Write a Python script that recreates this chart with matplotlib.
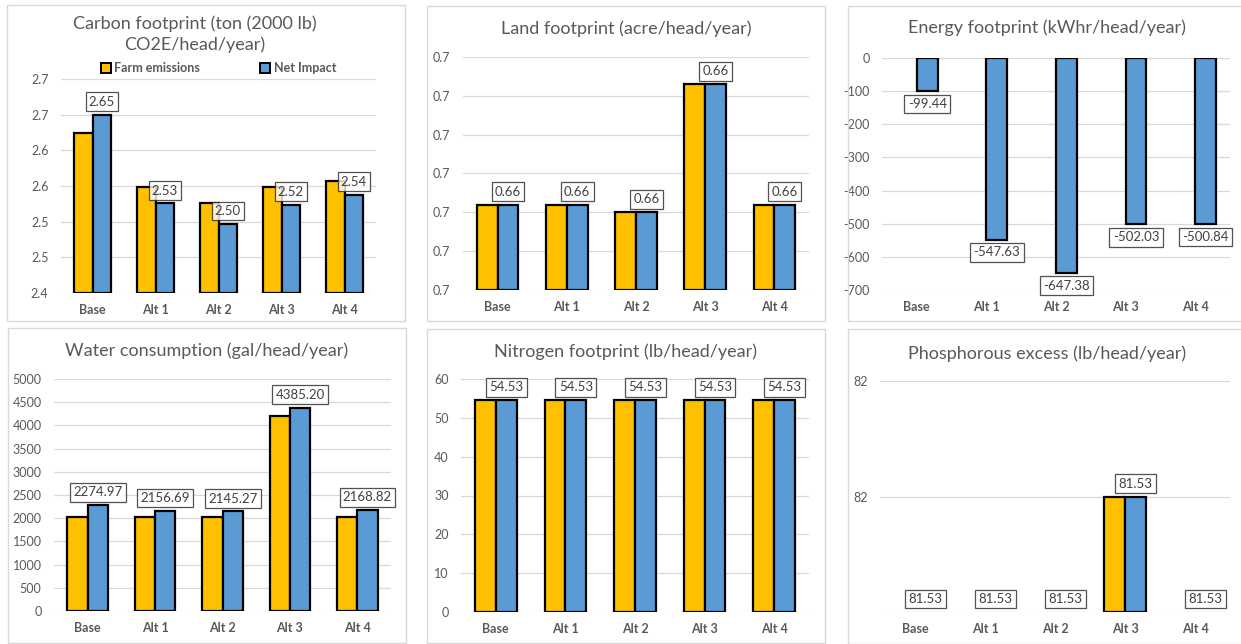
import numpy as np
from matplotlib import pyplot as plt
from matplotlib.patches import Rectangle

plt.rcParams['font.family'] = ['Lato', 'DejaVu Sans']

categories = ['Base', 'Alt 1', 'Alt 2', 'Alt 3', 'Alt 4']
series_names = ['Farm emissions', 'Net Impact']

carbon_farm = [2.624, 2.548, 2.526, 2.548, 2.557]
carbon_net = [2.650, 2.5255, 2.497, 2.524, 2.538]
carbon_ticks = [2.40, 2.45, 2.50, 2.55, 2.60, 2.65, 2.70]
carbon_ticklabels = ['2.4', '2.5', '2.5', '2.6', '2.6', '2.7', '2.7']

land_farm = [0.6572, 0.6572, 0.6570, 0.6603, 0.6572]
land_net = [0.6572, 0.6572, 0.6570, 0.6603, 0.6572]
land_ticks = [0.655, 0.656, 0.657, 0.658, 0.659, 0.660, 0.661]
land_ticklabels = ['0.7'] * 7

energy_farm = [0, 0, 0, 0, 0]
energy_net = [-99.44, -547.63, -647.38, -502.03, -500.84]
energy_ticks = [0, -100, -200, -300, -400, -500, -600, -700]
energy_ticklabels = ['0', '-100', '-200', '-300', '-400', '-500', '-600', '-700']

water_farm = [2020, 2020, 2020, 4210, 2020]
water_net = [2274.97, 2156.69, 2145.27, 4385.20, 2168.82]
water_ticks = [0, 500, 1000, 1500, 2000, 2500, 3000, 3500, 4000, 4500, 5000]
water_ticklabels = [str(t) for t in water_ticks]

nitrogen_farm = [54.53, 54.53, 54.53, 54.53, 54.53]
nitrogen_net = [54.53, 54.53, 54.53, 54.53, 54.53]
nitrogen_ticks = [0, 10, 20, 30, 40, 50, 60]
nitrogen_ticklabels = [str(t) for t in nitrogen_ticks]

phos_farm = [81.530, 81.530, 81.530, 81.532, 81.530]
phos_net = [81.530, 81.530, 81.530, 81.532, 81.530]
phos_ticks = [81.530, 81.532, 81.534]
phos_ticklabels = ['', '82', '82']

W, H = 1241, 644
FARM = '#FFC000'
NET = '#5B9BD5'
GREY = '#595959'
GRID = '#D9D9D9'

fig = plt.figure(figsize=(W / 100, H / 100), dpi=100)


def px_axes(l, t, r, b):
    return fig.add_axes([l / W, 1 - b / H, (r - l) / W, (b - t) / H])


def border(l, t, r, b):
    fig.patches.append(Rectangle((l / W, 1 - b / H), (r - l) / W, (b - t) / H,
                                 transform=fig.transFigure, fill=False,
                                 edgecolor=GRID, linewidth=1.0))


def panel(box, frame, title, title_xy, farm, net, ticks, ticklabels, base,
          below=False):
    border(*frame)
    ax = px_axes(*box)
    x = np.arange(len(categories))
    w = 0.3
    farm_h = np.array(farm) - base
    net_h = np.array(net) - base
    ax.bar(x - w / 2, farm_h, w, bottom=base, color=FARM, edgecolor='black',
           linewidth=[1.6 if h != 0 else 0 for h in farm_h], zorder=3)
    ax.bar(x + w / 2, net_h, w, bottom=base, color=NET, edgecolor='black',
           linewidth=[1.6 if h != 0 else 0 for h in net_h], zorder=3)
    for xi, v in zip(x, net):
        ax.annotate(f'{v:.2f}', (xi + w / 2, v), xytext=(0, -5 if below else 5),
                    textcoords='offset points', ha='center',
                    va='top' if below else 'bottom', fontsize=9.5, color='#404040',
                    zorder=5,
                    bbox=dict(boxstyle='square,pad=0.25', facecolor='white',
                              alpha=0.8, edgecolor='#262626', linewidth=0.9))
    ax.set_xlim(-0.5, len(categories) - 0.5)
    ax.set_ylim(min(ticks), max(ticks))
    ax.set_yticks(ticks)
    ax.set_yticklabels(ticklabels)
    ax.set_xticks(x)
    ax.set_xticklabels(categories, fontweight='bold')
    ax.tick_params(axis='both', length=0, colors=GREY, labelsize=9)
    ax.tick_params(axis='y', pad=9)
    ax.tick_params(axis='x', pad=8)
    for s in ax.spines.values():
        s.set_visible(False)
    ax.grid(axis='y', color=GRID, linewidth=0.9, zorder=0)
    ax.set_axisbelow(True)
    fig.text(title_xy[0] / W, 1 - title_xy[1] / H, title, ha='center',
             va='center', fontsize=13, color=GREY, linespacing=1.3)
    return ax


ax1 = panel((61, 79, 376, 293), (7, 5, 405, 321),
            'Carbon footprint (ton (2000 lb)\nCO2E/head/year)', (195, 34),
            carbon_farm, carbon_net, carbon_ticks, carbon_ticklabels, 2.40)
handles = [Rectangle((0, 0), 1, 1, facecolor=c, edgecolor='black', linewidth=1.4)
           for c in (FARM, NET)]
leg = ax1.legend(handles, series_names, ncol=2, loc='center',
                 bbox_to_anchor=(0.5, 1.05), frameon=False,
                 handlelength=0.8, handleheight=0.8, handletextpad=0.3,
                 columnspacing=4.8, prop={'weight': 'bold', 'size': 9})
for t in leg.get_texts():
    t.set_color(GREY)

panel((463, 57, 809, 290), (427, 6, 825, 321),
      'Land footprint (acre/head/year)', (626, 29),
      land_farm, land_net, land_ticks, land_ticklabels, 0.655)

panel((882, 58, 1230, 290), (848, 6, 1245, 321),
      'Energy footprint (kWhr/head/year)', (1047, 28),
      energy_farm, energy_net, energy_ticks, energy_ticklabels, 0, below=True)

panel((54, 379, 391, 611), (8, 328, 406, 643),
      'Water consumption (gal/head/year)', (207, 351),
      water_farm, water_net, water_ticks, water_ticklabels, 0)

panel((461, 379, 809, 612), (427, 329, 825, 643),
      'Nitrogen footprint (lb/head/year)', (626, 352),
      nitrogen_farm, nitrogen_net, nitrogen_ticks, nitrogen_ticklabels, 0)

panel((880, 381, 1230, 612), (848, 329, 1245, 644),
      'Phosphorous excess (lb/head/year)', (1047, 354),
      phos_farm, phos_net, phos_ticks, phos_ticklabels, 81.530)

plt.savefig('out.png', dpi=100)
